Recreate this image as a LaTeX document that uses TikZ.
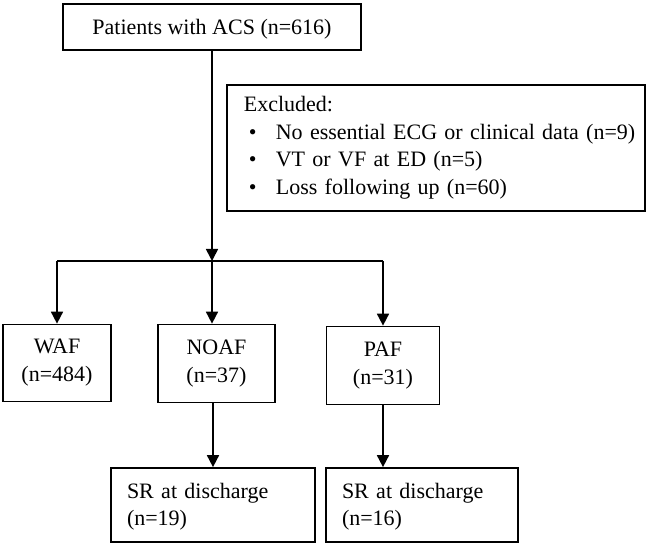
\documentclass[tikz,border=0pt]{standalone}
\usepackage{fontspec}
\setmainfont{Liberation Serif}
\usepackage{tikz}
\usetikzlibrary{arrows.meta, positioning, calc}
\tikzstyle{arrow} = [line width=1.7pt,-{Triangle[length=12pt,width=12pt]}]
\tikzstyle{line} = [line width=1.7pt]
\tikzstyle{box} = [draw, rectangle, line width=1.7pt, inner sep=0pt, align=center, font=\fontsize{22}{28}\selectfont]
\tikzstyle{leftbox} = [box, align=left, inner xsep=16pt]

\begin{document}
\begin{tikzpicture}[x=1pt, y=-1pt]
    \useasboundingbox (0,0) rectangle (646,545);
    \node[box, minimum width=298pt, minimum height=46pt, text height=17pt, text depth=2pt] (patients) at (212,27) {Patients with ACS (n=616)};
    \node[leftbox, anchor=north west, text width=400pt, inner xsep=9pt, minimum height=126pt, font=\fontsize{22}{27.5}\selectfont] (excluded) at (226,84) {\hspace*{8pt}Excluded:\\
        \makebox[40pt][l]{\hspace*{13pt}\textbullet}No essential ECG or clinical data (n=9)\\
        \makebox[40pt][l]{\hspace*{13pt}\textbullet}VT or VF at ED (n=5)\\
        \makebox[40pt][l]{\hspace*{13pt}\textbullet}Loss following up (n=60)};
    \coordinate (split) at (212,261);
    \node[box, minimum width=108pt, minimum height=77pt] (waf) at (57,363) {WAF\\(n=484)};
    \node[box, minimum width=117pt, minimum height=78pt] (noaf) at (216.5,363.5) {NOAF\\(n=37)};
    \node[box, minimum width=113pt, minimum height=78pt] (paf) at (383,365.5) {PAF\\(n=31)};
    \node[leftbox, text width=172pt, minimum height=74pt, font=\fontsize{22}{26.5}\selectfont] (sr1) at (213,505) {\strut SR at discharge\\(n=19)};
    \node[leftbox, text width=160pt, minimum height=74pt, font=\fontsize{22}{26.5}\selectfont] (sr2) at (422,505) {\strut SR at discharge\\(n=16)};

    \draw[arrow] (patients.south) -- (split);
    \draw[line] (waf.north |- split) -- (paf.north |- split);
    \draw[arrow] (waf.north |- split) -- (waf.north);
    \draw[arrow] (split) -- (split |- noaf.north);
    \draw[arrow] (paf.north |- split) -- (paf.north);
    \draw[arrow] (sr1.north |- noaf.south) -- (sr1.north);
    \draw[arrow] (paf.south) -- (paf.south |- sr2.north);
\end{tikzpicture}
\end{document}
